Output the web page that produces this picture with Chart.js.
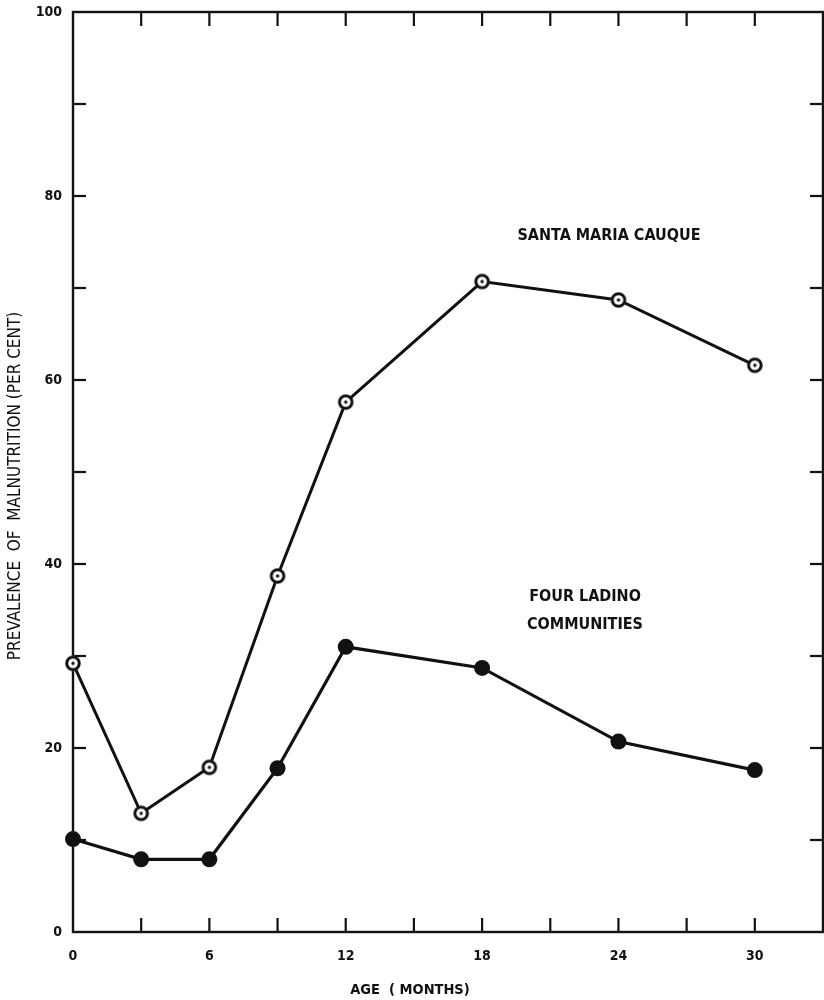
<!DOCTYPE html>
<html>
<head>
<meta charset="utf-8">
<script src="https://cdn.jsdelivr.net/npm/chart.js@4"></script>
<style>
  html, body { margin: 0; padding: 0; background: #fff; }
  #wrap { width: 824px; height: 1000px; position: relative; }
</style>
</head>
<body>
<div id="wrap"><canvas id="c" width="824" height="1000"></canvas></div>
<script>
// Age in months at each survey point
const ageMonths = [0, 3, 6, 9, 12, 18, 24, 30];
// Prevalence of malnutrition (per cent)
const santaMariaCauque = [29.2, 12.9, 17.9, 38.7, 57.6, 70.7, 68.7, 61.6];
const fourLadino = [10.1, 7.9, 7.9, 17.8, 31.0, 28.7, 20.7, 17.6];

const seriesNames = ['SANTA MARIA CAUQUE', 'FOUR LADINO COMMUNITIES'];
const xTitle = 'AGE  ( MONTHS)';
const yTitle = 'PREVALENCE  OF  MALNUTRITION (PER CENT)';

const FONT = '"DejaVu Sans Condensed", "DejaVu Sans", sans-serif';
const INK = '#111';

// open ring with a centre dot
function ringMarker() {
  const s = 20, c = s / 2, cv = document.createElement('canvas');
  cv.width = s; cv.height = s;
  const g = cv.getContext('2d');
  g.fillStyle = '#fff';
  g.beginPath(); g.arc(c, c, 7.5, 0, Math.PI * 2); g.fill();
  g.strokeStyle = INK; g.lineWidth = 3;
  g.beginPath(); g.arc(c, c, 6.3, 0, Math.PI * 2); g.stroke();
  g.fillStyle = INK;
  g.beginPath(); g.arc(c, c, 1.7, 0, Math.PI * 2); g.fill();
  return cv;
}

const toPoints = ys => ageMonths.map((m, i) => ({ x: m, y: ys[i] }));

// frame, inward ticks and free text
const decor = {
  id: 'decor',
  beforeDatasetsDraw(chart) {
    const { ctx, chartArea: a, scales: { x, y } } = chart;
    ctx.save();
    ctx.strokeStyle = INK;
    ctx.lineWidth = 2.4;
    ctx.strokeRect(a.left, a.top, a.right - a.left, a.bottom - a.top);
    ctx.lineWidth = 2.2;
    x.ticks.forEach(t => {
      if (t.value <= x.min || t.value >= x.max) return;
      const px = x.getPixelForValue(t.value);
      ctx.beginPath(); ctx.moveTo(px, a.bottom); ctx.lineTo(px, a.bottom - 14); ctx.stroke();
      ctx.beginPath(); ctx.moveTo(px, a.top); ctx.lineTo(px, a.top + 14); ctx.stroke();
    });
    y.ticks.forEach(t => {
      if (t.value <= y.min || t.value >= y.max) return;
      const py = y.getPixelForValue(t.value);
      ctx.beginPath(); ctx.moveTo(a.left, py); ctx.lineTo(a.left + 13, py); ctx.stroke();
      ctx.beginPath(); ctx.moveTo(a.right, py); ctx.lineTo(a.right - 13, py); ctx.stroke();
    });
    ctx.restore();
  },
  afterDraw(chart) {
    const { ctx } = chart;
    ctx.save();
    ctx.fillStyle = INK;
    ctx.textAlign = 'center';
    ctx.textBaseline = 'middle';
    ctx.font = 'bold 14.5px ' + FONT;
    ctx.fillText(xTitle, 410, 990);

    ctx.save();
    ctx.translate(16, 486);
    ctx.rotate(-Math.PI / 2);
    ctx.font = '17px ' + FONT;
    ctx.fillText(yTitle, 0, 0);
    ctx.restore();

    ctx.font = 'bold 16px ' + FONT;
    ctx.fillText(seriesNames[0], 609, 236);
    ctx.fillText('FOUR LADINO', 585, 597);
    ctx.fillText('COMMUNITIES', 585, 625);
    ctx.restore();
  }
};

const ring = ringMarker();

new Chart(document.getElementById('c'), {
  type: 'line',
  data: {
    datasets: [
      {
        label: seriesNames[0],
        data: toPoints(santaMariaCauque),
        borderColor: INK,
        borderWidth: 3,
        pointStyle: ring,
        clip: false,
        tension: 0
      },
      {
        label: seriesNames[1],
        data: toPoints(fourLadino),
        borderColor: INK,
        borderWidth: 3.2,
        backgroundColor: INK,
        pointStyle: 'circle',
        pointRadius: 8,
        pointBackgroundColor: INK,
        pointBorderWidth: 0,
        clip: false,
        tension: 0
      }
    ]
  },
  plugins: [decor],
  options: {
    responsive: false,
    animation: false,
    devicePixelRatio: 1,
    layout: { autoPadding: false, padding: { top: 12, right: 1, left: 0, bottom: 0 } },
    plugins: { legend: { display: false }, tooltip: { enabled: false } },
    scales: {
      x: {
        type: 'linear',
        min: 0, max: 33,
        border: { display: false },
        grid: { display: false, drawTicks: false },
        afterFit: s => { s.height = 68; s.paddingLeft = 0; s.paddingRight = 0; },
        ticks: {
          stepSize: 3,
          padding: 16,
          color: INK,
          font: { family: FONT, size: 14, weight: 'bold' },
          maxRotation: 0,
          autoSkip: false,
          callback: v => (v % 6 === 0 && v <= 30 ? String(v) : '')
        }
      },
      y: {
        min: 0, max: 100,
        border: { display: false },
        grid: { display: false, drawTicks: false },
        afterFit: s => { s.width = 73; s.paddingTop = 0; s.paddingBottom = 0; },
        ticks: {
          stepSize: 10,
          padding: 11,
          color: INK,
          font: { family: FONT, size: 14, weight: 'bold' },
          autoSkip: false,
          callback: v => (v % 20 === 0 ? String(v) : '')
        }
      }
    }
  }
});
</script>
</body>
</html>
